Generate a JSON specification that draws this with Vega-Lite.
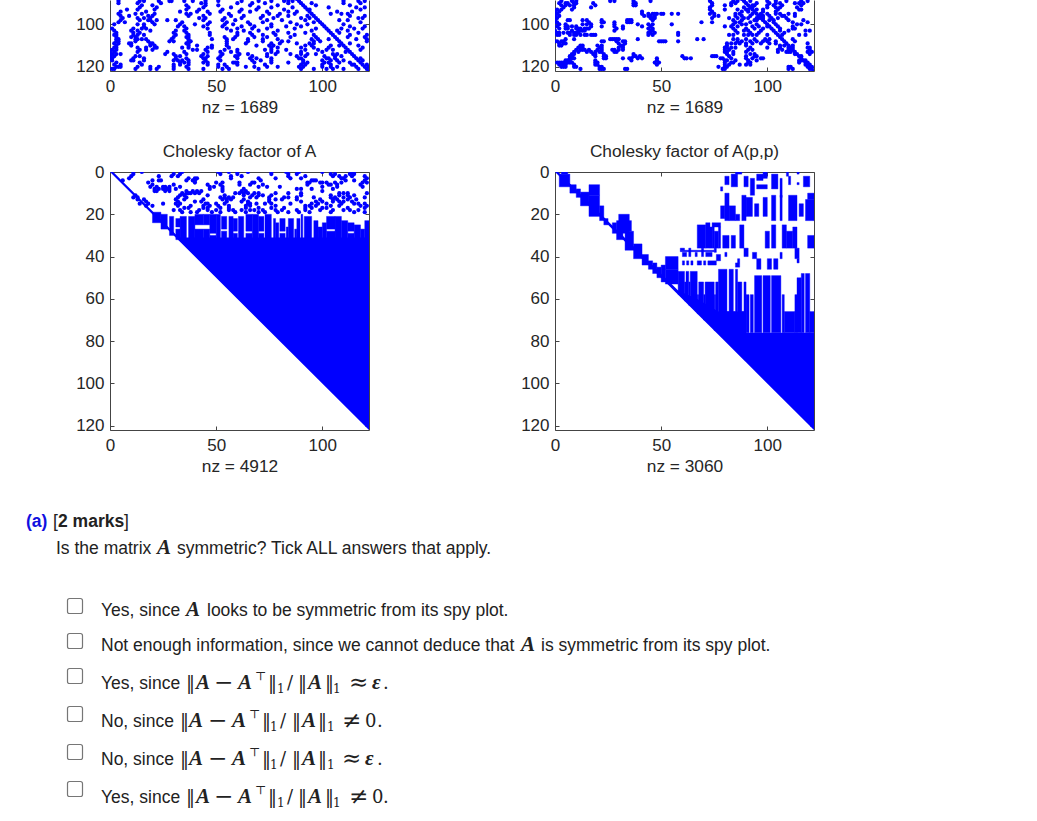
{"$schema":"https://vega.github.io/schema/vega-lite/v6.json","background":"white","padding":{"left":26,"top":0,"right":10,"bottom":0},"bounds":"flush","spacing":172,
"config":{"view":{"stroke":null},"axis":{"labelFont":"Liberation Sans","labelFontSize":17,"labelColor":"#262626","titleFont":"Liberation Sans","titleFontSize":17.3,"titleFontWeight":"normal","titleColor":"#262626","domainColor":"#444","tickColor":"#444","grid":false,"tickSize":-4,"labelAngle":0,"labelFlush":false,"labelOverlap":false},"axisX":{"labelPadding":11},"axisY":{"labelPadding":10},"title":{"font":"Liberation Sans","fontSize":17.3,"fontWeight":"normal","color":"#262626","offset":3}},
"datasets":{
"tl":[
{"x":4,"y":89},{"x":14,"y":89},{"x":16,"y":89},{"x":23,"y":89},{"x":28,"y":89},{"x":29,"y":89},{"x":35,"y":89},{"x":39,"y":89},{"x":45,"y":89},{"x":51,"y":89},{"x":62,"y":89},{"x":70,"y":89},{"x":76,"y":89},{"x":82,"y":89},{"x":84,"y":89},{"x":86,"y":89},{"x":110,"y":89},{"x":117,"y":89},{"x":120,"y":89},
{"x":4,"y":90},{"x":13,"y":90},{"x":24,"y":90},{"x":43,"y":90},{"x":45,"y":90},{"x":60,"y":90},{"x":67,"y":90},{"x":73,"y":90},{"x":84,"y":90},{"x":95,"y":90},{"x":110,"y":90},{"x":118,"y":90},
{"x":15,"y":91},{"x":20,"y":91},{"x":36,"y":91},{"x":45,"y":91},{"x":51,"y":91},{"x":66,"y":91},{"x":79,"y":91},{"x":97,"y":91},{"x":113,"y":91},
{"x":14,"y":92},{"x":22,"y":92},{"x":37,"y":92},{"x":44,"y":92},{"x":57,"y":92},{"x":70,"y":92},{"x":76,"y":92},{"x":86,"y":92},{"x":103,"y":92},{"x":116,"y":92},{"x":120,"y":92},
{"x":8,"y":93},{"x":13,"y":93},{"x":21,"y":93},{"x":36,"y":93},{"x":42,"y":93},{"x":53,"y":93},{"x":62,"y":93},{"x":69,"y":93},{"x":82,"y":93},{"x":94,"y":93},{"x":118,"y":93},
{"x":5,"y":94},{"x":17,"y":94},{"x":33,"y":94},{"x":41,"y":94},{"x":46,"y":94},{"x":52,"y":94},{"x":61,"y":94},{"x":66,"y":94},{"x":74,"y":94},{"x":84,"y":94},{"x":88,"y":94},{"x":107,"y":94},{"x":114,"y":94},
{"x":4,"y":95},{"x":12,"y":95},{"x":15,"y":95},{"x":21,"y":95},{"x":36,"y":95},{"x":38,"y":95},{"x":47,"y":95},{"x":56,"y":95},{"x":75,"y":95},{"x":80,"y":95},{"x":87,"y":95},{"x":104,"y":95},{"x":109,"y":95},{"x":112,"y":95},
{"x":5,"y":96},{"x":9,"y":96},{"x":18,"y":96},{"x":20,"y":96},{"x":37,"y":96},{"x":44,"y":96},{"x":57,"y":96},{"x":63,"y":96},{"x":72,"y":96},{"x":79,"y":96},{"x":84,"y":96},{"x":93,"y":96},{"x":113,"y":96},{"x":120,"y":96},
{"x":6,"y":97},{"x":13,"y":97},{"x":16,"y":97},{"x":19,"y":97},{"x":42,"y":97},{"x":45,"y":97},{"x":54,"y":97},{"x":62,"y":97},{"x":71,"y":97},{"x":77,"y":97},{"x":90,"y":97},{"x":94,"y":97},{"x":117,"y":97},{"x":119,"y":97},
{"x":5,"y":98},{"x":14,"y":98},{"x":18,"y":98},{"x":19,"y":98},{"x":22,"y":98},{"x":27,"y":98},{"x":31,"y":98},{"x":44,"y":98},{"x":53,"y":98},{"x":59,"y":98},{"x":74,"y":98},{"x":81,"y":98},{"x":92,"y":98},{"x":108,"y":98},{"x":112,"y":98},
{"x":4,"y":99},{"x":7,"y":99},{"x":20,"y":99},{"x":34,"y":99},{"x":47,"y":99},{"x":55,"y":99},{"x":65,"y":99},{"x":72,"y":99},{"x":85,"y":99},{"x":96,"y":99},{"x":118,"y":99},
{"x":2,"y":100},{"x":13,"y":100},{"x":16,"y":100},{"x":21,"y":100},{"x":33,"y":100},{"x":40,"y":100},{"x":46,"y":100},{"x":54,"y":100},{"x":58,"y":100},{"x":66,"y":100},{"x":76,"y":100},{"x":88,"y":100},{"x":93,"y":100},{"x":110,"y":100},
{"x":16,"y":101},{"x":32,"y":101},{"x":35,"y":101},{"x":44,"y":101},{"x":53,"y":101},{"x":62,"y":101},{"x":68,"y":101},{"x":76,"y":101},{"x":83,"y":101},{"x":90,"y":101},{"x":113,"y":101},{"x":120,"y":101},
{"x":1,"y":102},{"x":11,"y":102},{"x":17,"y":102},{"x":15,"y":102},{"x":36,"y":102},{"x":46,"y":102},{"x":55,"y":102},{"x":60,"y":102},{"x":67,"y":102},{"x":74,"y":102},{"x":87,"y":102},{"x":97,"y":102},{"x":109,"y":102},{"x":115,"y":102},{"x":119,"y":102},
{"x":2,"y":103},{"x":10,"y":103},{"x":13,"y":103},{"x":19,"y":103},{"x":31,"y":103},{"x":35,"y":103},{"x":57,"y":103},{"x":63,"y":103},{"x":70,"y":103},{"x":79,"y":103},{"x":95,"y":103},{"x":107,"y":103},{"x":112,"y":103},
{"x":3,"y":104},{"x":11,"y":104},{"x":14,"y":104},{"x":30,"y":104},{"x":36,"y":104},{"x":47,"y":104},{"x":60,"y":104},{"x":66,"y":104},{"x":77,"y":104},{"x":84,"y":104},{"x":92,"y":104},{"x":108,"y":104},{"x":117,"y":104},
{"x":2,"y":105},{"x":3,"y":105},{"x":11,"y":105},{"x":13,"y":105},{"x":16,"y":105},{"x":31,"y":105},{"x":37,"y":105},{"x":47,"y":105},{"x":60,"y":105},{"x":67,"y":105},{"x":72,"y":105},{"x":78,"y":105},{"x":87,"y":105},{"x":96,"y":105},{"x":113,"y":105},{"x":121,"y":105},
{"x":3,"y":106},{"x":10,"y":106},{"x":12,"y":106},{"x":30,"y":106},{"x":37,"y":106},{"x":36,"y":106},{"x":54,"y":106},{"x":59,"y":106},{"x":68,"y":106},{"x":74,"y":106},{"x":85,"y":106},{"x":97,"y":106},{"x":112,"y":106},{"x":120,"y":106},
{"x":3,"y":107},{"x":4,"y":107},{"x":12,"y":107},{"x":13,"y":107},{"x":15,"y":107},{"x":17,"y":107},{"x":29,"y":107},{"x":37,"y":107},{"x":48,"y":107},{"x":55,"y":107},{"x":58,"y":107},{"x":65,"y":107},{"x":72,"y":107},{"x":79,"y":107},{"x":95,"y":107},{"x":98,"y":107},{"x":103,"y":107},{"x":116,"y":107},{"x":121,"y":107},
{"x":3,"y":108},{"x":4,"y":108},{"x":12,"y":108},{"x":18,"y":108},{"x":28,"y":108},{"x":30,"y":108},{"x":37,"y":108},{"x":38,"y":108},{"x":55,"y":108},{"x":65,"y":108},{"x":72,"y":108},{"x":81,"y":108},{"x":84,"y":108},{"x":96,"y":108},{"x":99,"y":108},{"x":121,"y":108},
{"x":2,"y":109},{"x":4,"y":109},{"x":9,"y":109},{"x":10,"y":109},{"x":19,"y":109},{"x":20,"y":109},{"x":36,"y":109},{"x":37,"y":109},{"x":55,"y":109},{"x":64,"y":109},{"x":76,"y":109},{"x":80,"y":109},{"x":88,"y":109},{"x":94,"y":109},{"x":96,"y":109},{"x":113,"y":109},
{"x":3,"y":110},{"x":10,"y":110},{"x":19,"y":110},{"x":21,"y":110},{"x":37,"y":110},{"x":41,"y":110},{"x":48,"y":110},{"x":55,"y":110},{"x":69,"y":110},{"x":75,"y":110},{"x":77,"y":110},{"x":92,"y":110},{"x":95,"y":110},{"x":104,"y":110},{"x":108,"y":110},{"x":117,"y":110},
{"x":2,"y":111},{"x":3,"y":111},{"x":13,"y":111},{"x":17,"y":111},{"x":21,"y":111},{"x":22,"y":111},{"x":34,"y":111},{"x":37,"y":111},{"x":46,"y":111},{"x":48,"y":111},{"x":56,"y":111},{"x":76,"y":111},{"x":79,"y":111},{"x":90,"y":111},{"x":96,"y":111},{"x":103,"y":111},{"x":119,"y":111},
{"x":1,"y":112},{"x":3,"y":112},{"x":14,"y":112},{"x":17,"y":112},{"x":20,"y":112},{"x":39,"y":112},{"x":41,"y":112},{"x":45,"y":112},{"x":54,"y":112},{"x":60,"y":112},{"x":73,"y":112},{"x":76,"y":112},{"x":83,"y":112},{"x":92,"y":112},{"x":98,"y":112},{"x":102,"y":112},{"x":105,"y":112},{"x":118,"y":112},
{"x":0,"y":113},{"x":2,"y":113},{"x":13,"y":113},{"x":27,"y":113},{"x":35,"y":113},{"x":46,"y":113},{"x":52,"y":113},{"x":57,"y":113},{"x":60,"y":113},{"x":76,"y":113},{"x":79,"y":113},{"x":90,"y":113},{"x":100,"y":113},{"x":111,"y":113},
{"x":0,"y":114},{"x":1,"y":114},{"x":3,"y":114},{"x":5,"y":114},{"x":26,"y":114},{"x":30,"y":114},{"x":36,"y":114},{"x":44,"y":114},{"x":53,"y":114},{"x":61,"y":114},{"x":65,"y":114},{"x":74,"y":114},{"x":78,"y":114},{"x":85,"y":114},{"x":90,"y":114},{"x":93,"y":114},{"x":97,"y":114},{"x":105,"y":114},{"x":107,"y":114},
{"x":0,"y":115},{"x":2,"y":115},{"x":12,"y":115},{"x":14,"y":115},{"x":31,"y":115},{"x":33,"y":115},{"x":43,"y":115},{"x":46,"y":115},{"x":52,"y":115},{"x":59,"y":115},{"x":60,"y":115},{"x":67,"y":115},{"x":74,"y":115},{"x":88,"y":115},{"x":92,"y":115},{"x":101,"y":115},{"x":106,"y":115},{"x":109,"y":115},
{"x":0,"y":116},{"x":1,"y":116},{"x":11,"y":116},{"x":16,"y":116},{"x":31,"y":116},{"x":36,"y":116},{"x":44,"y":116},{"x":45,"y":116},{"x":51,"y":116},{"x":60,"y":116},{"x":66,"y":116},{"x":69,"y":116},{"x":76,"y":116},{"x":89,"y":116},{"x":90,"y":116},{"x":102,"y":116},{"x":103,"y":116},{"x":106,"y":116},{"x":118,"y":116},
{"x":1,"y":117},{"x":10,"y":117},{"x":11,"y":117},{"x":16,"y":117},{"x":30,"y":117},{"x":32,"y":117},{"x":34,"y":117},{"x":37,"y":117},{"x":45,"y":117},{"x":52,"y":117},{"x":67,"y":117},{"x":71,"y":117},{"x":76,"y":117},{"x":91,"y":117},{"x":100,"y":117},{"x":104,"y":117},{"x":107,"y":117},{"x":110,"y":117},{"x":119,"y":117},
{"x":3,"y":118},{"x":14,"y":118},{"x":33,"y":118},{"x":35,"y":118},{"x":37,"y":118},{"x":44,"y":118},{"x":46,"y":118},{"x":58,"y":118},{"x":59,"y":118},{"x":60,"y":118},{"x":68,"y":118},{"x":76,"y":118},{"x":84,"y":118},{"x":91,"y":118},{"x":93,"y":118},{"x":101,"y":118},{"x":103,"y":118},{"x":108,"y":118},{"x":113,"y":118},
{"x":2,"y":119},{"x":5,"y":119},{"x":15,"y":119},{"x":30,"y":119},{"x":33,"y":119},{"x":37,"y":119},{"x":46,"y":119},{"x":51,"y":119},{"x":54,"y":119},{"x":60,"y":119},{"x":73,"y":119},{"x":90,"y":119},{"x":92,"y":119},{"x":100,"y":119},{"x":104,"y":119},{"x":114,"y":119},{"x":115,"y":119},{"x":121,"y":119},
{"x":3,"y":120},{"x":4,"y":120},{"x":5,"y":120},{"x":13,"y":120},{"x":19,"y":120},{"x":23,"y":120},{"x":30,"y":120},{"x":36,"y":120},{"x":51,"y":120},{"x":55,"y":120},{"x":64,"y":120},{"x":68,"y":120},{"x":74,"y":120},{"x":79,"y":120},{"x":89,"y":120},{"x":91,"y":120},{"x":100,"y":120},{"x":104,"y":120},{"x":107,"y":120},{"x":116,"y":120},{"x":122,"y":120},
{"x":1,"y":121},{"x":2,"y":121},{"x":12,"y":121},{"x":19,"y":121},{"x":22,"y":121},{"x":30,"y":121},{"x":37,"y":121},{"x":44,"y":121},{"x":53,"y":121},{"x":56,"y":121},{"x":70,"y":121},{"x":90,"y":121},{"x":96,"y":121},{"x":102,"y":121},{"x":105,"y":121},{"x":110,"y":121},{"x":117,"y":121}],
"tr":[
{"x":3,"y":89},{"x":8,"y":89},{"x":10,"y":89},{"x":26,"y":89},{"x":28,"y":89},{"x":37,"y":89},{"x":45,"y":89},{"x":73,"y":89},{"x":84,"y":89},{"x":86,"y":89},{"x":92,"y":89},{"x":100,"y":89},{"x":104,"y":89},{"x":109,"y":89},{"x":116,"y":89},{"x":119,"y":89},
{"x":2,"y":90},{"x":5,"y":90},{"x":6,"y":90},{"x":9,"y":90},{"x":10,"y":90},{"x":18,"y":90},{"x":37,"y":90},{"x":38,"y":90},{"x":74,"y":90},{"x":83,"y":90},{"x":85,"y":90},{"x":95,"y":90},{"x":101,"y":90},{"x":104,"y":90},{"x":106,"y":90},{"x":113,"y":90},{"x":115,"y":90},{"x":117,"y":90},
{"x":3,"y":91},{"x":5,"y":91},{"x":7,"y":91},{"x":9,"y":91},{"x":19,"y":91},{"x":37,"y":91},{"x":38,"y":91},{"x":74,"y":91},{"x":80,"y":91},{"x":83,"y":91},{"x":94,"y":91},{"x":100,"y":91},{"x":103,"y":91},{"x":107,"y":91},{"x":116,"y":91},
{"x":4,"y":92},{"x":9,"y":92},{"x":17,"y":92},{"x":73,"y":92},{"x":89,"y":92},{"x":93,"y":92},{"x":100,"y":92},{"x":104,"y":92},{"x":106,"y":92},{"x":114,"y":92},
{"x":1,"y":93},{"x":3,"y":93},{"x":8,"y":93},{"x":73,"y":93},{"x":80,"y":93},{"x":86,"y":93},{"x":90,"y":93},{"x":95,"y":93},{"x":98,"y":93},{"x":105,"y":93},{"x":115,"y":93},{"x":116,"y":93},
{"x":0,"y":94},{"x":2,"y":94},{"x":41,"y":94},{"x":74,"y":94},{"x":88,"y":94},{"x":91,"y":94},{"x":98,"y":94},{"x":104,"y":94},
{"x":1,"y":95},{"x":41,"y":95},{"x":44,"y":95},{"x":46,"y":95},{"x":47,"y":95},{"x":48,"y":95},{"x":50,"y":95},{"x":51,"y":95},{"x":55,"y":95},{"x":58,"y":95},{"x":73,"y":95},{"x":75,"y":95},{"x":85,"y":95},{"x":87,"y":95},{"x":93,"y":95},{"x":97,"y":95},{"x":100,"y":95},{"x":104,"y":95},{"x":106,"y":95},{"x":110,"y":95},{"x":113,"y":95},
{"x":0,"y":96},{"x":2,"y":96},{"x":42,"y":96},{"x":44,"y":96},{"x":45,"y":96},{"x":47,"y":96},{"x":75,"y":96},{"x":77,"y":96},{"x":85,"y":96},{"x":88,"y":96},{"x":92,"y":96},{"x":98,"y":96},{"x":101,"y":96},{"x":107,"y":96},{"x":108,"y":96},{"x":113,"y":96},
{"x":0,"y":97},{"x":1,"y":97},{"x":45,"y":97},{"x":46,"y":97},{"x":47,"y":97},{"x":74,"y":97},{"x":82,"y":97},{"x":86,"y":97},{"x":89,"y":97},{"x":91,"y":97},{"x":95,"y":97},{"x":96,"y":97},{"x":98,"y":97},{"x":102,"y":97},{"x":105,"y":97},{"x":109,"y":97},
{"x":0,"y":98},{"x":6,"y":98},{"x":7,"y":98},{"x":13,"y":98},{"x":15,"y":98},{"x":22,"y":98},{"x":34,"y":98},{"x":35,"y":98},{"x":36,"y":98},{"x":46,"y":98},{"x":84,"y":98},{"x":88,"y":98},{"x":94,"y":98},{"x":101,"y":98},{"x":103,"y":98},{"x":110,"y":98},{"x":117,"y":98},
{"x":0,"y":99},{"x":1,"y":99},{"x":16,"y":99},{"x":22,"y":99},{"x":23,"y":99},{"x":28,"y":99},{"x":34,"y":99},{"x":35,"y":99},{"x":36,"y":99},{"x":69,"y":99},{"x":74,"y":99},{"x":85,"y":99},{"x":87,"y":99},{"x":92,"y":99},{"x":103,"y":99},{"x":112,"y":99},{"x":119,"y":99},
{"x":2,"y":100},{"x":5,"y":100},{"x":13,"y":100},{"x":15,"y":100},{"x":17,"y":100},{"x":28,"y":100},{"x":39,"y":100},{"x":44,"y":100},{"x":46,"y":100},{"x":55,"y":100},{"x":84,"y":100},{"x":88,"y":100},{"x":90,"y":100},{"x":95,"y":100},{"x":104,"y":100},{"x":114,"y":100},{"x":116,"y":100},
{"x":1,"y":101},{"x":5,"y":101},{"x":6,"y":101},{"x":8,"y":101},{"x":10,"y":101},{"x":17,"y":101},{"x":22,"y":101},{"x":28,"y":101},{"x":32,"y":101},{"x":41,"y":101},{"x":45,"y":101},{"x":80,"y":101},{"x":83,"y":101},{"x":86,"y":101},{"x":93,"y":101},{"x":96,"y":101},{"x":100,"y":101},{"x":105,"y":101},{"x":112,"y":101},
{"x":2,"y":102},{"x":5,"y":102},{"x":6,"y":102},{"x":10,"y":102},{"x":11,"y":102},{"x":12,"y":102},{"x":14,"y":102},{"x":15,"y":102},{"x":16,"y":102},{"x":29,"y":102},{"x":32,"y":102},{"x":44,"y":102},{"x":46,"y":102},{"x":84,"y":102},{"x":90,"y":102},{"x":94,"y":102},{"x":98,"y":102},{"x":106,"y":102},{"x":112,"y":102},{"x":113,"y":102},
{"x":0,"y":103},{"x":8,"y":103},{"x":11,"y":103},{"x":12,"y":103},{"x":13,"y":103},{"x":14,"y":103},{"x":28,"y":103},{"x":45,"y":103},{"x":46,"y":103},{"x":85,"y":103},{"x":89,"y":103},{"x":91,"y":103},{"x":97,"y":103},{"x":106,"y":103},{"x":110,"y":103},{"x":118,"y":103},{"x":120,"y":103},
{"x":0,"y":104},{"x":1,"y":104},{"x":2,"y":104},{"x":4,"y":104},{"x":6,"y":104},{"x":7,"y":104},{"x":9,"y":104},{"x":10,"y":104},{"x":11,"y":104},{"x":44,"y":104},{"x":45,"y":104},{"x":47,"y":104},{"x":58,"y":104},{"x":86,"y":104},{"x":92,"y":104},{"x":96,"y":104},{"x":108,"y":104},
{"x":1,"y":105},{"x":2,"y":105},{"x":7,"y":105},{"x":9,"y":105},{"x":10,"y":105},{"x":12,"y":105},{"x":14,"y":105},{"x":15,"y":105},{"x":17,"y":105},{"x":18,"y":105},{"x":19,"y":105},{"x":44,"y":105},{"x":46,"y":105},{"x":58,"y":105},{"x":82,"y":105},{"x":84,"y":105},{"x":89,"y":105},{"x":91,"y":105},{"x":93,"y":105},{"x":95,"y":105},{"x":100,"y":105},{"x":107,"y":105},{"x":115,"y":105},{"x":118,"y":105},
{"x":5,"y":107},{"x":9,"y":107},{"x":26,"y":107},{"x":27,"y":107},{"x":28,"y":107},{"x":29,"y":107},{"x":30,"y":107},{"x":39,"y":107},{"x":67,"y":107},{"x":70,"y":107},{"x":84,"y":107},{"x":86,"y":107},{"x":90,"y":107},{"x":94,"y":107},{"x":99,"y":107},{"x":101,"y":107},{"x":112,"y":107},
{"x":0,"y":108},{"x":1,"y":108},{"x":3,"y":108},{"x":4,"y":108},{"x":22,"y":108},{"x":23,"y":108},{"x":29,"y":108},{"x":32,"y":108},{"x":33,"y":108},{"x":49,"y":108},{"x":50,"y":108},{"x":51,"y":108},{"x":52,"y":108},{"x":58,"y":108},{"x":86,"y":108},{"x":88,"y":108},{"x":92,"y":108},{"x":95,"y":108},{"x":98,"y":108},{"x":100,"y":108},{"x":104,"y":108},{"x":113,"y":108},
{"x":2,"y":109},{"x":4,"y":109},{"x":5,"y":109},{"x":30,"y":109},{"x":33,"y":109},{"x":81,"y":109},{"x":83,"y":109},{"x":85,"y":109},{"x":87,"y":109},{"x":90,"y":109},{"x":93,"y":109},{"x":97,"y":109},{"x":101,"y":109},{"x":104,"y":109},{"x":119,"y":109},
{"x":2,"y":110},{"x":3,"y":110},{"x":12,"y":110},{"x":13,"y":110},{"x":20,"y":110},{"x":22,"y":110},{"x":31,"y":110},{"x":32,"y":110},{"x":81,"y":110},{"x":90,"y":110},{"x":106,"y":110},{"x":108,"y":110},
{"x":11,"y":111},{"x":12,"y":111},{"x":13,"y":111},{"x":21,"y":111},{"x":22,"y":111},{"x":30,"y":111},{"x":32,"y":111},{"x":80,"y":111},{"x":81,"y":111},{"x":83,"y":111},{"x":85,"y":111},{"x":92,"y":111},{"x":100,"y":111},{"x":106,"y":111},{"x":110,"y":111},{"x":112,"y":111},{"x":119,"y":111},{"x":120,"y":111},
{"x":10,"y":112},{"x":12,"y":112},{"x":13,"y":112},{"x":14,"y":112},{"x":16,"y":112},{"x":20,"y":112},{"x":22,"y":112},{"x":27,"y":112},{"x":28,"y":112},{"x":30,"y":112},{"x":32,"y":112},{"x":80,"y":112},{"x":82,"y":112},{"x":91,"y":112},{"x":93,"y":112},{"x":105,"y":112},{"x":107,"y":112},{"x":110,"y":112},{"x":111,"y":112},{"x":120,"y":112},
{"x":9,"y":113},{"x":11,"y":113},{"x":15,"y":113},{"x":17,"y":113},{"x":19,"y":113},{"x":21,"y":113},{"x":22,"y":113},{"x":28,"y":113},{"x":29,"y":113},{"x":80,"y":113},{"x":81,"y":113},{"x":84,"y":113},{"x":90,"y":113},{"x":105,"y":113},{"x":109,"y":113},{"x":111,"y":113},{"x":119,"y":113},{"x":121,"y":113},
{"x":9,"y":114},{"x":8,"y":114},{"x":18,"y":114},{"x":19,"y":114},{"x":23,"y":114},{"x":37,"y":114},{"x":81,"y":114},{"x":84,"y":114},{"x":92,"y":114},{"x":94,"y":114},{"x":113,"y":114},{"x":120,"y":114},
{"x":7,"y":115},{"x":8,"y":115},{"x":19,"y":115},{"x":23,"y":115},{"x":24,"y":115},{"x":37,"y":115},{"x":38,"y":115},{"x":40,"y":115},{"x":60,"y":115},{"x":74,"y":115},{"x":75,"y":115},{"x":76,"y":115},{"x":82,"y":115},{"x":90,"y":115},{"x":94,"y":115},{"x":95,"y":115},{"x":116,"y":115},
{"x":7,"y":116},{"x":8,"y":116},{"x":9,"y":116},{"x":23,"y":116},{"x":24,"y":116},{"x":32,"y":116},{"x":35,"y":116},{"x":36,"y":116},{"x":39,"y":116},{"x":41,"y":116},{"x":48,"y":116},{"x":61,"y":116},{"x":62,"y":116},{"x":64,"y":116},{"x":78,"y":116},{"x":79,"y":116},{"x":83,"y":116},{"x":90,"y":116},{"x":93,"y":116},{"x":97,"y":116},{"x":98,"y":116},
{"x":5,"y":117},{"x":6,"y":117},{"x":7,"y":117},{"x":19,"y":117},{"x":36,"y":117},{"x":48,"y":117},{"x":80,"y":117},{"x":81,"y":117},{"x":85,"y":117},{"x":91,"y":117},{"x":95,"y":117},{"x":115,"y":117},{"x":116,"y":117},{"x":118,"y":117},
{"x":1,"y":118},{"x":2,"y":118},{"x":3,"y":118},{"x":4,"y":118},{"x":5,"y":118},{"x":6,"y":118},{"x":7,"y":118},{"x":8,"y":118},{"x":19,"y":118},{"x":20,"y":118},{"x":47,"y":118},{"x":49,"y":118},{"x":80,"y":118},{"x":83,"y":118},{"x":84,"y":118},{"x":91,"y":118},{"x":92,"y":118},{"x":115,"y":118},{"x":119,"y":118},
{"x":2,"y":119},{"x":3,"y":119},{"x":4,"y":119},{"x":5,"y":119},{"x":9,"y":119},{"x":19,"y":119},{"x":20,"y":119},{"x":48,"y":119},{"x":80,"y":119},{"x":82,"y":119},{"x":87,"y":119},{"x":90,"y":119},{"x":92,"y":119},{"x":118,"y":119},{"x":120,"y":119},
{"x":3,"y":120},{"x":4,"y":120},{"x":5,"y":120},{"x":9,"y":120},{"x":10,"y":120},{"x":21,"y":120},{"x":22,"y":120},{"x":77,"y":120},{"x":80,"y":120},{"x":81,"y":120},{"x":110,"y":120},{"x":111,"y":120},{"x":119,"y":120},{"x":121,"y":120},
{"x":12,"y":121},{"x":21,"y":121},{"x":22,"y":121},{"x":23,"y":121},{"x":33,"y":121},{"x":34,"y":121},{"x":79,"y":121},{"x":80,"y":121},{"x":110,"y":121},{"x":112,"y":121},{"x":120,"y":121},
{"x":91,"y":93},{"x":93,"y":91},{"x":95,"y":98},{"x":97,"y":96},{"x":110,"y":113},{"x":112,"y":110}],
"diag":[{"x":88,"y":88},{"x":89,"y":89},{"x":90,"y":90},{"x":91,"y":91},{"x":92,"y":92},{"x":93,"y":93},{"x":94,"y":94},{"x":95,"y":95},{"x":96,"y":96},{"x":97,"y":97},{"x":98,"y":98},{"x":99,"y":99},{"x":100,"y":100},{"x":101,"y":101},{"x":102,"y":102},{"x":103,"y":103},{"x":104,"y":104},{"x":105,"y":105},{"x":106,"y":106},{"x":107,"y":107},{"x":108,"y":108},{"x":109,"y":109},{"x":110,"y":110},{"x":111,"y":111},{"x":112,"y":112},{"x":113,"y":113},{"x":114,"y":114},{"x":115,"y":115},{"x":116,"y":116},{"x":117,"y":117},{"x":118,"y":118},{"x":119,"y":119},{"x":120,"y":120},{"x":121,"y":121},{"x":122,"y":122}],
"cl":[
{"x":11,"y":0},{"x":15,"y":0},{"x":34,"y":0},{"x":51,"y":0},{"x":56,"y":0},{"x":60,"y":0},{"x":65,"y":0},{"x":76,"y":0},{"x":83,"y":0},{"x":89,"y":0},{"x":100,"y":0},{"x":114,"y":0},{"x":115,"y":0},
{"x":11,"y":1},{"x":30,"y":1},{"x":33,"y":1},{"x":52,"y":1},{"x":60,"y":1},{"x":76,"y":1},{"x":84,"y":1},{"x":88,"y":1},{"x":104,"y":1},{"x":106,"y":1},{"x":113,"y":1},{"x":114,"y":1},{"x":115,"y":1},
{"x":10,"y":2},{"x":23,"y":2},{"x":29,"y":2},{"x":32,"y":2},{"x":57,"y":2},{"x":62,"y":2},{"x":84,"y":2},{"x":92,"y":2},{"x":105,"y":2},{"x":108,"y":2},{"x":111,"y":2},{"x":114,"y":2},{"x":120,"y":2},
{"x":9,"y":3},{"x":37,"y":3},{"x":40,"y":3},{"x":41,"y":3},{"x":57,"y":3},{"x":70,"y":3},{"x":78,"y":3},{"x":85,"y":3},{"x":90,"y":3},{"x":109,"y":3},{"x":110,"y":3},{"x":121,"y":3},
{"x":6,"y":4},{"x":20,"y":4},{"x":23,"y":4},{"x":24,"y":4},{"x":36,"y":4},{"x":39,"y":4},{"x":40,"y":4},{"x":71,"y":4},{"x":95,"y":4},{"x":96,"y":4},{"x":97,"y":4},{"x":111,"y":4},{"x":115,"y":4},{"x":120,"y":4},
{"x":18,"y":5},{"x":40,"y":5},{"x":53,"y":5},{"x":50,"y":5},{"x":61,"y":5},{"x":67,"y":5},{"x":68,"y":5},{"x":93,"y":5},{"x":94,"y":5},{"x":99,"y":5},{"x":100,"y":5},{"x":102,"y":5},{"x":106,"y":5},{"x":109,"y":5},{"x":119,"y":5},{"x":121,"y":5},
{"x":20,"y":6},{"x":30,"y":6},{"x":46,"y":6},{"x":52,"y":6},{"x":61,"y":6},{"x":66,"y":6},{"x":72,"y":6},{"x":93,"y":6},{"x":103,"y":6},{"x":104,"y":6},{"x":107,"y":6},{"x":118,"y":6},
{"x":19,"y":7},{"x":22,"y":7},{"x":25,"y":7},{"x":26,"y":7},{"x":28,"y":7},{"x":33,"y":7},{"x":47,"y":7},{"x":49,"y":7},{"x":53,"y":7},{"x":70,"y":7},{"x":74,"y":7},{"x":80,"y":7},{"x":100,"y":7},{"x":107,"y":7},{"x":119,"y":7},
{"x":21,"y":8},{"x":23,"y":8},{"x":25,"y":8},{"x":26,"y":8},{"x":27,"y":8},{"x":28,"y":8},{"x":31,"y":8},{"x":47,"y":8},{"x":53,"y":8},{"x":63,"y":8},{"x":88,"y":8},{"x":90,"y":8},{"x":95,"y":8},{"x":105,"y":8},
{"x":21,"y":9},{"x":22,"y":9},{"x":26,"y":9},{"x":28,"y":9},{"x":36,"y":9},{"x":39,"y":9},{"x":41,"y":9},{"x":43,"y":9},{"x":53,"y":9},{"x":62,"y":9},{"x":64,"y":9},{"x":100,"y":9},
{"x":34,"y":10},{"x":36,"y":10},{"x":37,"y":10},{"x":38,"y":10},{"x":40,"y":10},{"x":42,"y":10},{"x":59,"y":10},{"x":61,"y":10},{"x":63,"y":10},{"x":65,"y":10},{"x":68,"y":10},{"x":70,"y":10},{"x":78,"y":10},{"x":84,"y":10},{"x":90,"y":10},{"x":108,"y":10},{"x":110,"y":10},{"x":112,"y":10},{"x":121,"y":10},
{"x":12,"y":11},{"x":33,"y":11},{"x":35,"y":11},{"x":46,"y":11},{"x":54,"y":11},{"x":63,"y":11},{"x":67,"y":11},{"x":70,"y":11},{"x":72,"y":11},{"x":76,"y":11},{"x":90,"y":11},{"x":104,"y":11},{"x":108,"y":11},{"x":112,"y":11},{"x":115,"y":11},
{"x":11,"y":12},{"x":13,"y":12},{"x":32,"y":12},{"x":36,"y":12},{"x":52,"y":12},{"x":54,"y":12},{"x":56,"y":12},{"x":58,"y":12},{"x":66,"y":12},{"x":69,"y":12},{"x":75,"y":12},{"x":82,"y":12},{"x":84,"y":12},{"x":88,"y":12},{"x":96,"y":12},{"x":104,"y":12},{"x":106,"y":12},{"x":110,"y":12},{"x":113,"y":12},{"x":120,"y":12},
{"x":13,"y":13},{"x":16,"y":13},{"x":31,"y":13},{"x":35,"y":13},{"x":44,"y":13},{"x":53,"y":13},{"x":55,"y":13},{"x":57,"y":13},{"x":63,"y":13},{"x":75,"y":13},{"x":78,"y":13},{"x":81,"y":13},{"x":88,"y":13},{"x":99,"y":13},{"x":105,"y":13},{"x":107,"y":13},{"x":112,"y":13},{"x":116,"y":13},
{"x":17,"y":14},{"x":32,"y":14},{"x":40,"y":14},{"x":43,"y":14},{"x":55,"y":14},{"x":62,"y":14},{"x":65,"y":14},{"x":75,"y":14},{"x":90,"y":14},{"x":97,"y":14},{"x":100,"y":14},{"x":105,"y":14},{"x":108,"y":14},{"x":110,"y":14},{"x":114,"y":14},
{"x":14,"y":15},{"x":18,"y":15},{"x":25,"y":15},{"x":31,"y":15},{"x":33,"y":15},{"x":45,"y":15},{"x":46,"y":15},{"x":50,"y":15},{"x":54,"y":15},{"x":65,"y":15},{"x":66,"y":15},{"x":69,"y":15},{"x":73,"y":15},{"x":76,"y":15},{"x":85,"y":15},{"x":95,"y":15},{"x":98,"y":15},{"x":102,"y":15},{"x":109,"y":15},{"x":115,"y":15},{"x":117,"y":15},{"x":120,"y":15},
{"x":17,"y":16},{"x":20,"y":16},{"x":32,"y":16},{"x":38,"y":16},{"x":44,"y":16},{"x":47,"y":16},{"x":51,"y":16},{"x":56,"y":16},{"x":64,"y":16},{"x":66,"y":16},{"x":78,"y":16},{"x":92,"y":16},{"x":94,"y":16},{"x":97,"y":16},{"x":104,"y":16},{"x":108,"y":16},{"x":118,"y":16},{"x":121,"y":16},
{"x":35,"y":17},{"x":37,"y":17},{"x":44,"y":17},{"x":46,"y":17},{"x":52,"y":17},{"x":56,"y":17},{"x":64,"y":17},{"x":70,"y":17},{"x":76,"y":17},{"x":82,"y":17},{"x":92,"y":17},{"x":95,"y":17},{"x":100,"y":17},{"x":102,"y":17},{"x":112,"y":17},{"x":120,"y":17},
{"x":30,"y":18},{"x":33,"y":18},{"x":42,"y":18},{"x":46,"y":18},{"x":50,"y":18},{"x":56,"y":18},{"x":58,"y":18},{"x":62,"y":18},{"x":66,"y":18},{"x":68,"y":18},{"x":72,"y":18},{"x":78,"y":18},{"x":81,"y":18},{"x":88,"y":18},{"x":92,"y":18},{"x":99,"y":18},{"x":105,"y":18},{"x":110,"y":18},{"x":113,"y":18},{"x":117,"y":18},
{"x":34,"y":19},{"x":38,"y":19},{"x":41,"y":19},{"x":48,"y":19},{"x":52,"y":19},{"x":59,"y":19},{"x":64,"y":19},{"x":70,"y":19},{"x":73,"y":19},{"x":79,"y":19},{"x":84,"y":19},{"x":89,"y":19},{"x":94,"y":19},{"x":104,"y":19},{"x":115,"y":19},{"x":120,"y":19}],
"clb":[
{"x0":20,"x1":24,"y0":19,"y1":24},{"x0":24,"x1":27,"y0":20,"y1":27},{"x0":28,"x1":30,"y0":21,"y1":30},{"x0":31,"x1":33,"y0":22,"y1":26},{"x0":31,"x1":33,"y0":27,"y1":32},{"x0":33,"x1":36,"y0":21,"y1":32},{"x0":37,"x1":40,"y0":21,"y1":32},{"x0":40,"x1":44,"y0":20,"y1":25},{"x0":40,"x1":44,"y0":27,"y1":32},{"x0":44,"x1":47,"y0":20,"y1":25},{"x0":44,"x1":47,"y0":27,"y1":32},{"x0":47,"x1":50,"y0":20,"y1":29},{"x0":47,"x1":50,"y0":30,"y1":32},{"x0":50,"x1":52,"y0":20,"y1":32},{"x0":52.5,"x1":55,"y0":21,"y1":27},{"x0":52.5,"x1":55,"y0":28,"y1":32},{"x0":56,"x1":58,"y0":21,"y1":32},{"x0":58,"x1":60,"y0":22,"y1":28},{"x0":58,"x1":60,"y0":29,"y1":32},{"x0":60.5,"x1":63,"y0":21,"y1":32},{"x0":64,"x1":67,"y0":20,"y1":28},{"x0":64,"x1":67,"y0":29,"y1":32},{"x0":67,"x1":70,"y0":20,"y1":32},{"x0":70,"x1":72.5,"y0":21,"y1":28},{"x0":70,"x1":72.5,"y0":29,"y1":32},{"x0":73,"x1":76,"y0":20,"y1":32},{"x0":77,"x1":78,"y0":22,"y1":32},{"x0":78,"x1":79.5,"y0":24,"y1":32},{"x0":80,"x1":82.5,"y0":22,"y1":28},{"x0":80,"x1":82.5,"y0":29,"y1":32},{"x0":83,"x1":84,"y0":26,"y1":32},{"x0":84,"x1":86.5,"y0":22,"y1":32},{"x0":87,"x1":88,"y0":27,"y1":32},{"x0":88,"x1":89.5,"y0":22,"y1":32},{"x0":90,"x1":90.8,"y0":20,"y1":34},{"x0":91.5,"x1":95,"y0":21,"y1":32},{"x0":96,"x1":98,"y0":23,"y1":32},{"x0":98,"x1":100,"y0":26,"y1":32},{"x0":100,"x1":102,"y0":24,"y1":32},{"x0":102,"x1":106,"y0":21,"y1":27},{"x0":102,"x1":106,"y0":28,"y1":32},{"x0":106,"x1":109,"y0":21,"y1":32},{"x0":109,"x1":112,"y0":23,"y1":32},{"x0":112,"x1":115,"y0":24,"y1":28},{"x0":112,"x1":115,"y0":29,"y1":32},{"x0":115,"x1":118,"y0":25,"y1":32},{"x0":118,"x1":120,"y0":27,"y1":32},{"x0":120,"x1":122,"y0":23,"y1":32}],
"cla":[{"x":0,"y0":-1.5,"y1":0},{"x":32.5,"y0":31,"y1":32.5},{"x":122,"y0":31,"y1":122}],
"cra":[{"x":0,"y0":-1.5,"y1":0},{"x":58,"y0":56,"y1":58},{"x":67,"y0":60,"y1":67},{"x":77,"y0":66,"y1":77},{"x":89.5,"y0":66,"y1":89.5},{"x":90,"y0":76,"y1":90},{"x":122,"y0":76,"y1":122}],
"crb":[
{"x0":3,"x1":6,"y0":0,"y1":1},{"x0":2,"x1":7,"y0":1,"y1":7},{"x0":7,"x1":10,"y0":6,"y1":10},{"x0":10,"x1":12,"y0":8,"y1":12},{"x0":12,"x1":16,"y0":9.5,"y1":16},{"x0":16,"x1":21,"y0":6,"y1":11},{"x0":16,"x1":21,"y0":11,"y1":21},{"x0":21,"x1":23,"y0":16,"y1":23},{"x0":23,"x1":25,"y0":22,"y1":25},{"x0":27,"x1":29,"y0":24,"y1":29},{"x0":29,"x1":32,"y0":23,"y1":32},{"x0":30,"x1":35,"y0":20,"y1":29},{"x0":32,"x1":36,"y0":23,"y1":28},{"x0":33,"x1":37,"y0":28,"y1":37},{"x0":37,"x1":41,"y0":34,"y1":41},{"x0":41,"x1":44,"y0":39,"y1":44},
{"x0":44,"x1":46,"y0":42,"y1":46},{"x0":46,"x1":48,"y0":43,"y1":48},{"x0":48,"x1":50,"y0":45,"y1":50},{"x0":50,"x1":52,"y0":44,"y1":52},{"x0":52,"x1":58,"y0":40,"y1":46},{"x0":52,"x1":58,"y0":46,"y1":53},{"x0":58,"x1":61,"y0":47,"y1":58},{"x0":61,"x1":61.7,"y0":52,"y1":61},{"x0":61.7,"x1":63,"y0":47,"y1":61},{"x0":63,"x1":63.7,"y0":52,"y1":63},{"x0":63.7,"x1":67,"y0":47,"y1":63},{"x0":67,"x1":67.7,"y0":58,"y1":67},{"x0":67.7,"x1":70,"y0":52,"y1":67},{"x0":70,"x1":70.7,"y0":58,"y1":70},{"x0":70.7,"x1":75,"y0":52,"y1":70},{"x0":75,"x1":75.7,"y0":58,"y1":75},{"x0":75.7,"x1":77,"y0":52,"y1":75},
{"x0":77,"x1":81,"y0":46,"y1":76},{"x0":81,"x1":82,"y0":66,"y1":76},{"x0":82,"x1":84,"y0":46,"y1":76},{"x0":84,"x1":85,"y0":66,"y1":76},{"x0":85,"x1":86,"y0":46,"y1":76},{"x0":86,"x1":88,"y0":52,"y1":76},{"x0":88,"x1":89,"y0":66,"y1":76},{"x0":89,"x1":90,"y0":52,"y1":76},{"x0":90,"x1":91.4,"y0":58,"y1":76},{"x0":92,"x1":93.4,"y0":58,"y1":76},{"x0":94,"x1":97.4,"y0":49,"y1":76},{"x0":98,"x1":101.4,"y0":49,"y1":76},{"x0":102,"x1":106.4,"y0":49,"y1":76},{"x0":107,"x1":108,"y0":58,"y1":76},{"x0":108,"x1":113,"y0":66,"y1":76},{"x0":113,"x1":114,"y0":58,"y1":76},{"x0":114,"x1":116,"y0":50,"y1":76},{"x0":116,"x1":117.4,"y0":48,"y1":76},{"x0":118,"x1":120,"y0":48,"y1":76},{"x0":120,"x1":122,"y0":66,"y1":76},
{"x0":67,"x1":71,"y0":25,"y1":36},{"x0":71,"x1":73,"y0":24,"y1":36},{"x0":73,"x1":74,"y0":26,"y1":36},{"x0":74,"x1":78,"y0":24,"y1":26},{"x0":77,"x1":78,"y0":26,"y1":36},{"x0":74,"x1":75,"y0":26,"y1":36},{"x0":75,"x1":77,"y0":28,"y1":36},
{"x0":59,"x1":75,"y0":37,"y1":37.7},{"x0":59,"x1":61,"y0":36,"y1":37},{"x0":60,"x1":62,"y0":38,"y1":40},{"x0":63,"x1":64,"y0":36,"y1":40},{"x0":66,"x1":67,"y0":38,"y1":40},{"x0":69,"x1":70,"y0":36,"y1":40},{"x0":71,"x1":74,"y0":38,"y1":40},{"x0":76,"x1":78,"y0":39,"y1":42},{"x0":75,"x1":76,"y0":36,"y1":38},
{"x0":60,"x1":61,"y0":42,"y1":44},{"x0":62,"x1":63,"y0":42,"y1":44},{"x0":64,"x1":65,"y0":42,"y1":44},{"x0":67,"x1":69,"y0":42,"y1":44},{"x0":70,"x1":71,"y0":42,"y1":44},{"x0":72,"x1":76,"y0":42,"y1":44},
{"x0":79,"x1":82,"y0":30,"y1":36},{"x0":83,"x1":85,"y0":30,"y1":36},{"x0":87,"x1":89,"y0":25,"y1":36},{"x0":99,"x1":101,"y0":28,"y1":36},{"x0":102,"x1":104,"y0":25,"y1":36},{"x0":107,"x1":109,"y0":25,"y1":36},{"x0":109,"x1":112,"y0":28,"y1":36},{"x0":112,"x1":114,"y0":26,"y1":36},{"x0":119,"x1":122,"y0":30,"y1":36},
{"x0":80,"x1":81,"y0":38,"y1":40},{"x0":89,"x1":91,"y0":36,"y1":40},{"x0":93,"x1":95,"y0":38,"y1":41},{"x0":95,"x1":97,"y0":41,"y1":46},{"x0":100,"x1":102,"y0":41,"y1":46},{"x0":103,"x1":105,"y0":41,"y1":46},{"x0":106,"x1":107,"y0":38,"y1":41},{"x0":113,"x1":115,"y0":36,"y1":41},{"x0":114,"x1":115,"y0":41,"y1":43},{"x0":86,"x1":87,"y0":41,"y1":43},{"x0":85,"x1":87,"y0":43,"y1":45},
{"x0":78,"x1":80,"y0":16,"y1":22},{"x0":80,"x1":82,"y0":10,"y1":23},{"x0":82,"x1":85,"y0":16,"y1":23},{"x0":85,"x1":87,"y0":20,"y1":23},{"x0":88,"x1":90,"y0":11,"y1":23},{"x0":90,"x1":93,"y0":12,"y1":21},{"x0":94,"x1":96,"y0":15,"y1":21},{"x0":98,"x1":100,"y0":12,"y1":21},{"x0":102,"x1":104,"y0":11,"y1":23},{"x0":106,"x1":107,"y0":11,"y1":23},{"x0":110,"x1":114,"y0":11,"y1":23},{"x0":115,"x1":117,"y0":15,"y1":21},{"x0":118,"x1":122,"y0":13,"y1":23},
{"x0":78,"x1":79,"y0":7,"y1":9},{"x0":80,"x1":82,"y0":2,"y1":6},{"x0":83,"x1":86,"y0":1,"y1":7},{"x0":85,"x1":88,"y0":0,"y1":1},{"x0":89,"x1":91,"y0":2,"y1":7},{"x0":92,"x1":94,"y0":3,"y1":11},{"x0":95,"x1":98,"y0":1,"y1":4},{"x0":95,"x1":100,"y0":6,"y1":8},{"x0":98,"x1":100,"y0":0,"y1":3},{"x0":102,"x1":105,"y0":1,"y1":8},{"x0":106,"x1":107,"y0":3,"y1":12},{"x0":110,"x1":111,"y0":2,"y1":6},{"x0":114,"x1":115,"y0":0,"y1":1},{"x0":114,"x1":115,"y0":5,"y1":6},{"x0":117,"x1":120,"y0":2,"y1":7},{"x0":109,"x1":110,"y0":0,"y1":2},{"x0":119,"x1":122,"y0":10,"y1":13}],
"body":[{"c":-54,"r":64,"t":"Is the matrix"},{"c":67,"r":64,"t":"symmetric? Tick ALL answers that apply."},{"c":-57,"r":37,"t":"["},{"c":14,"r":37,"t":"]"},{"c":-9,"r":126,"t":"Yes, since"},{"c":97,"r":126,"t":"looks to be symmetric from its spy plot."},{"c":-9,"r":161,"t":"Not enough information, since we cannot deduce that"},{"c":431,"r":161,"t":"is symmetric from its spy plot."},{"c":-9,"r":199,"t":"Yes, since"},{"c":-9,"r":237,"t":"No, since"},{"c":-9,"r":275,"t":"No, since"},{"c":-9,"r":313,"t":"Yes, since"}],
"bold":[{"c":-52,"r":37,"t":"2 marks"}],
"blue":[{"c":-84,"r":37,"t":"(a)"}],
"ital":[{"c":47,"r":64,"t":"A"},{"c":76,"r":126,"t":"A"},{"c":411,"r":161,"t":"A"},
{"c":86,"r":199,"t":"A"},{"c":128,"r":199,"t":"A"},{"c":198,"r":199,"t":"A"},{"c":262,"r":199,"t":"ε"},
{"c":79,"r":237,"t":"A"},{"c":122,"r":237,"t":"A"},{"c":192,"r":237,"t":"A"},
{"c":79,"r":275,"t":"A"},{"c":122,"r":275,"t":"A"},{"c":192,"r":275,"t":"A"},{"c":255,"r":275,"t":"ε"},
{"c":86,"r":313,"t":"A"},{"c":128,"r":313,"t":"A"},{"c":198,"r":313,"t":"A"}],
"math":[
{"c":76,"r":199,"t":"‖"},{"c":158,"r":199,"t":"‖"},{"c":177,"r":199,"t":"/"},{"c":188,"r":199,"t":"‖"},{"c":215,"r":199,"t":"‖"},{"c":273,"r":199,"t":"."},
{"c":70,"r":237,"t":"‖"},{"c":152,"r":237,"t":"‖"},{"c":170,"r":237,"t":"/"},{"c":182,"r":237,"t":"‖"},{"c":208,"r":237,"t":"‖"},{"c":255,"r":237,"t":"0"},{"c":267,"r":237,"t":"."},
{"c":70,"r":275,"t":"‖"},{"c":152,"r":275,"t":"‖"},{"c":170,"r":275,"t":"/"},{"c":182,"r":275,"t":"‖"},{"c":208,"r":275,"t":"‖"},{"c":267,"r":275,"t":"."},
{"c":76,"r":313,"t":"‖"},{"c":158,"r":313,"t":"‖"},{"c":177,"r":313,"t":"/"},{"c":188,"r":313,"t":"‖"},{"c":215,"r":313,"t":"‖"},{"c":262,"r":313,"t":"0"},{"c":273,"r":313,"t":"."}],
"rel":[
{"c":104,"r":200,"t":"−"},{"c":239,"r":200,"t":"≈"},
{"c":98,"r":238,"t":"−"},{"c":232,"r":238,"t":"≠"},
{"c":98,"r":276,"t":"−"},{"c":232,"r":276,"t":"≈"},
{"c":104,"r":314,"t":"−"},{"c":239,"r":314,"t":"≠"}],
"small":[
{"c":167,"r":203,"t":"1"},{"c":223,"r":203,"t":"1"},{"c":145,"r":190,"t":"⊤"},
{"c":160,"r":241,"t":"1"},{"c":217,"r":241,"t":"1"},{"c":139,"r":228,"t":"⊤"},
{"c":160,"r":279,"t":"1"},{"c":217,"r":279,"t":"1"},{"c":139,"r":266,"t":"⊤"},
{"c":167,"r":317,"t":"1"},{"c":223,"r":317,"t":"1"},{"c":145,"r":304,"t":"⊤"}],
"boxes":[{"c":-35,"r":116},{"c":-35,"r":151},{"c":-35,"r":186},{"c":-35,"r":224},{"c":-35,"r":262},{"c":-35,"r":299}]
},
"vconcat":[
{"hconcat":[
{"width":259,"height":71,"resolve":{"axis":{"y":"independent"}},"layer":[
{"data":{"name":"tl"},"mark":{"type":"point","filled":true,"size":18,"color":"#0000ff","opacity":1,"clip":true},"encoding":{"x":{"field":"x","type":"quantitative","scale":{"domain":[0,122],"nice":false,"zero":false},"axis":{"values":[0,50,100],"title":"nz = 1689","titlePadding":4}},"y":{"field":"y","type":"quantitative","scale":{"domain":[88.5,122],"reverse":true,"nice":false,"zero":false},"axis":{"values":[100,120],"title":null}}}},
{"data":{"name":"diag"},"mark":{"type":"point","filled":true,"size":18,"color":"#0000ff","opacity":1,"clip":true},"encoding":{"x":{"field":"x","type":"quantitative"},"y":{"field":"y","type":"quantitative","axis":{"orient":"right","values":[100,120],"labels":false,"title":null}}}}]},
{"width":259,"height":71,"resolve":{"axis":{"y":"independent"}},"layer":[
{"data":{"name":"tr"},"mark":{"type":"point","filled":true,"size":18,"color":"#0000ff","opacity":1,"clip":true},"encoding":{"x":{"field":"x","type":"quantitative","scale":{"domain":[0,122],"nice":false,"zero":false},"axis":{"values":[0,50,100],"title":"nz = 1689","titlePadding":4}},"y":{"field":"y","type":"quantitative","scale":{"domain":[88.5,122],"reverse":true,"nice":false,"zero":false},"axis":{"values":[100,120],"title":null}}}},
{"data":{"name":"diag"},"mark":{"type":"point","filled":true,"size":18,"color":"#0000ff","opacity":1,"clip":true},"encoding":{"x":{"field":"x","type":"quantitative"},"y":{"field":"y","type":"quantitative","axis":{"orient":"right","values":[100,120],"labels":false,"title":null}}}}]}
],"spacing":186,"bounds":"flush"},
{"hconcat":[
{"title":"Cholesky factor of A","width":259,"height":258,"resolve":{"axis":{"x":"independent","y":"independent"}},"layer":[
{"data":{"name":"cla"},"mark":{"type":"area","color":"#0000ff","opacity":1,"clip":true},"encoding":{"x":{"field":"x","type":"quantitative","scale":{"domain":[0,122],"nice":false,"zero":false},"axis":{"values":[0,50,100],"title":"nz = 4912","titlePadding":4}},"y":{"field":"y0","type":"quantitative","scale":{"domain":[0,122],"reverse":true,"nice":false,"zero":false},"axis":{"values":[0,20,40,60,80,100,120],"title":null}},"y2":{"field":"y1"}}},
{"data":{"name":"clb"},"mark":{"type":"rect","color":"#0000ff","stroke":"#0000ff","strokeWidth":0.4,"opacity":1,"clip":true},"encoding":{"x":{"field":"x0","type":"quantitative","axis":{"orient":"top","values":[0,50,100],"labels":false,"title":null}},"x2":{"field":"x1"},"y":{"field":"y0","type":"quantitative","axis":{"orient":"right","values":[0,20,40,60,80,100,120],"labels":false,"title":null}},"y2":{"field":"y1"}}},
{"data":{"name":"cl"},"mark":{"type":"point","filled":true,"size":18,"color":"#0000ff","opacity":1,"clip":true},"encoding":{"x":{"field":"x","type":"quantitative","axis":null},"y":{"field":"y","type":"quantitative","axis":null}}}]},
{"title":"Cholesky factor of A(p,p)","width":259,"height":258,"resolve":{"axis":{"x":"independent","y":"independent"}},"layer":[
{"data":{"name":"cra"},"mark":{"type":"area","color":"#0000ff","opacity":1,"clip":true},"encoding":{"x":{"field":"x","type":"quantitative","scale":{"domain":[0,122],"nice":false,"zero":false},"axis":{"values":[0,50,100],"title":"nz = 3060","titlePadding":4}},"y":{"field":"y0","type":"quantitative","scale":{"domain":[0,122],"reverse":true,"nice":false,"zero":false},"axis":{"values":[0,20,40,60,80,100,120],"title":null}},"y2":{"field":"y1"}}},
{"data":{"name":"crb"},"mark":{"type":"rect","color":"#0000ff","stroke":"#0000ff","strokeWidth":0.4,"opacity":1,"clip":true},"encoding":{"x":{"field":"x0","type":"quantitative","axis":{"orient":"top","values":[0,50,100],"labels":false,"title":null}},"x2":{"field":"x1"},"y":{"field":"y0","type":"quantitative","axis":{"orient":"right","values":[0,20,40,60,80,100,120],"labels":false,"title":null}},"y2":{"field":"y1"}}}]}
],"spacing":186,"bounds":"flush"},
{"width":700,"height":477,"layer":[
{"data":{"name":"boxes"},"mark":{"type":"point","filled":false,"shape":"M-0.72,-1 L0.72,-1 Q1,-1 1,-0.72 L1,0.72 Q1,1 0.72,1 L-0.72,1 Q-1,1 -1,0.72 L-1,-0.72 Q-1,-1 -0.72,-1 Z","size":225,"stroke":"#767676","strokeWidth":1.2,"fill":"white","opacity":1},"encoding":{"x":{"field":"c","type":"quantitative","scale":{"domain":[0,700],"nice":false,"zero":false},"axis":null},"y":{"field":"r","type":"quantitative","scale":{"domain":[-146,331],"reverse":true,"nice":false,"zero":false},"axis":null}}},
{"data":{"name":"body"},"mark":{"type":"text","font":"Liberation Sans","fontSize":17.5,"align":"left","baseline":"alphabetic","color":"#222"},"encoding":{"x":{"field":"c","type":"quantitative","axis":null},"y":{"field":"r","type":"quantitative","axis":null},"text":{"field":"t"}}},
{"data":{"name":"bold"},"mark":{"type":"text","font":"Liberation Sans","fontSize":17.5,"fontWeight":"bold","align":"left","baseline":"alphabetic","color":"#222"},"encoding":{"x":{"field":"c","type":"quantitative","axis":null},"y":{"field":"r","type":"quantitative","axis":null},"text":{"field":"t"}}},
{"data":{"name":"blue"},"mark":{"type":"text","font":"Liberation Sans","fontSize":17.5,"fontWeight":"bold","align":"left","baseline":"alphabetic","color":"#1010e0"},"encoding":{"x":{"field":"c","type":"quantitative","axis":null},"y":{"field":"r","type":"quantitative","axis":null},"text":{"field":"t"}}},
{"data":{"name":"ital"},"mark":{"type":"text","font":"Liberation Serif","fontSize":21,"fontStyle":"italic","fontWeight":"bold","align":"left","baseline":"alphabetic","color":"#222"},"encoding":{"x":{"field":"c","type":"quantitative","axis":null},"y":{"field":"r","type":"quantitative","axis":null},"text":{"field":"t"}}},
{"data":{"name":"math"},"mark":{"type":"text","font":"DejaVu Serif","fontSize":18,"align":"left","baseline":"alphabetic","color":"#222"},"encoding":{"x":{"field":"c","type":"quantitative","axis":null},"y":{"field":"r","type":"quantitative","axis":null},"text":{"field":"t"}}},
{"data":{"name":"rel"},"mark":{"type":"text","font":"DejaVu Serif","fontSize":23,"align":"left","baseline":"alphabetic","color":"#222"},"encoding":{"x":{"field":"c","type":"quantitative","axis":null},"y":{"field":"r","type":"quantitative","axis":null},"text":{"field":"t"}}},
{"data":{"name":"small"},"mark":{"type":"text","font":"DejaVu Serif","fontSize":12,"align":"left","baseline":"alphabetic","color":"#222"},"encoding":{"x":{"field":"c","type":"quantitative","axis":null},"y":{"field":"r","type":"quantitative","axis":null},"text":{"field":"t"}}}
]}
]}
